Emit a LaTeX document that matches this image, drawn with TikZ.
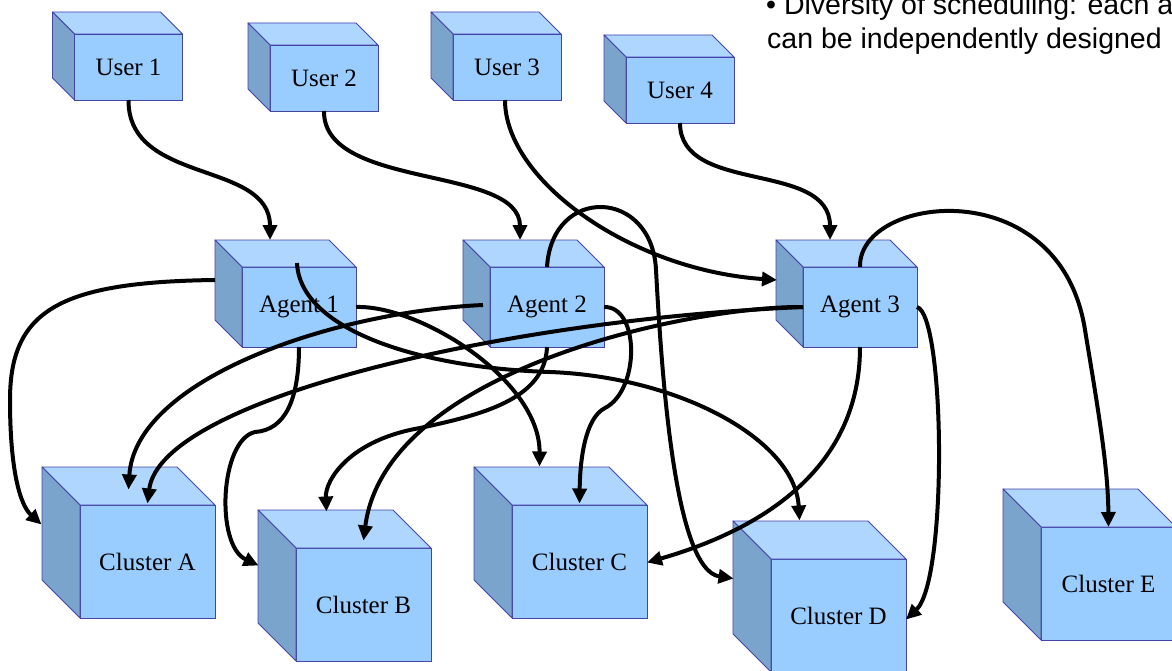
\documentclass[tikz,border=0pt]{standalone}
\usepackage{fontspec}
\setmainfont{Liberation Serif}
\newfontfamily\arialfont{Liberation Sans}
\usetikzlibrary{arrows.meta,calc}
\definecolor{frontc}{HTML}{99CCFF}
\definecolor{topc}{HTML}{AED6FF}
\definecolor{sidec}{HTML}{7AA4CC}
\definecolor{edgec}{HTML}{4444AA}
\tikzset{
  face/.style={draw=edgec, line width=0.9pt, fill=frontc, rectangle, outer sep=0pt, inner sep=0pt,
    font=\fontsize{25}{29}\selectfont, text=black},
  topface/.style={draw=edgec, line width=0.9pt, fill=topc, line join=round},
  sideface/.style={draw=edgec, line width=0.9pt, fill=sidec, line join=round},
  conn/.style={draw=black, line width=4pt, -{Triangle[length=15pt,width=14pt]}},
}
\newcommand{\mkcube}[7]{%
  \node[face, minimum width=#4pt, minimum height=#5pt] (#1) at (#2,#3) {#7};
  \path[topface] (#1.north west) -- ++(-#6,-#6) -- ++(#4,0) -- (#1.north east) -- cycle;
  \path[sideface] (#1.north west) -- ++(-#6,-#6) -- ++(0,#5) -- (#1.south west) -- cycle;
}
\begin{document}
\begin{tikzpicture}[x=1pt,y=-1pt]
\clip (0,0) rectangle (1172,671);
\fill[white] (0,0) rectangle (1172,671);
% text top right
\node[anchor=base west, inner sep=0pt, font=\arialfont\fontsize{28.5}{34}\selectfont] (t1) at (766,15) {• Diversity of scheduling: each a};
\node[anchor=base west, inner sep=0pt, font=\arialfont\fontsize{28.5}{34}\selectfont] (t2) at (767,49) {can be independently designed};
% users
\mkcube{u1}{128.5}{67}{108}{66}{22}{User 1}
\mkcube{u2}{324}{78}{108}{66}{22}{User 2}
\mkcube{u3}{507}{67}{108}{66}{22}{User 3}
\mkcube{u4}{680}{90}{108}{66}{22}{User 4}
% agents
\mkcube{a1}{299}{307}{114}{80}{27}{Agent 1}
\mkcube{a2}{547}{307}{114}{80}{27}{Agent 2}
\mkcube{a3}{860}{307}{114}{80}{27}{Agent 3}
% clusters
\mkcube{ca}{147.5}{561.5}{135}{113}{38}{Cluster A}
\mkcube{cb}{363.5}{604.5}{135}{113}{38}{Cluster B}
\mkcube{cc}{579.5}{561.5}{135}{113}{38}{Cluster C}
\mkcube{cd}{838.5}{615.5}{135}{113}{38}{Cluster D}
\mkcube{ce}{1108.5}{583.5}{135}{113}{38}{Cluster E}
% connectors users -> agents
\draw[conn] (u1.south) .. controls (128,185) and (270,160) .. ($(a1)+(-29,-67)$);
\draw[conn] (u2.south) .. controls (323,190) and (520,165) .. ($(a2)+(-27,-67)$);
\draw[conn] ($(u3.south)+(-2,0)$) .. controls (505,180) and (630,270) .. ($(a3)+(-83,-27)$);
\draw[conn] (u4.south) .. controls (680,195) and (830,160) .. ($(a3)+(-30,-67)$);
% agent 1
\draw[conn] ($(a1)+(-84,-27)$) .. controls (60,282) and (10,310) .. (10,400) .. controls (10,470) and (20,505) .. ($(ca)+(-106,-37)$);
\draw[conn] ($(a1)+(-2,-44)$) .. controls (300,330) and (420,368) .. (550,372) .. controls (680,377) and (795,440) .. ($(cd)+(-39,-95)$);
\draw[conn] (a1.east) .. controls (420,305) and (540,380) .. ($(cc)+(-40,-95)$);
\draw[conn] (a1.south) .. controls (299,400) and (285,430) .. (255,432) .. controls (220,440) and (215,545) .. ($(cb)+(-105,-39)$);
% agent 2
\draw[conn] ($(a2)+(-64,-2)$) .. controls (330,312) and (135,380) .. ($(ca)+(-19,-72)$);
\draw[conn] (a2.north) .. controls (552,185) and (652,188) .. (656,270) .. controls (662,380) and (675,570) .. ($(cd)+(-105,-37)$);
\draw[conn] (a2.east) .. controls (640,306) and (640,390) .. (605,408) .. controls (585,418) and (580,460) .. ($(cc)+(0,-58)$);
\draw[conn] (a2.south) .. controls (545,400) and (480,415) .. (420,428) .. controls (350,440) and (325,480) .. ($(cb)+(-37,-93)$);
% agent 3
\draw[conn] (a3.west) .. controls (500,320) and (160,400) .. ($(ca)+(0,-58)$);
\draw[conn] (a3.west) .. controls (690,306) and (385,370) .. ($(cb)+(0,-64)$);
\draw[conn] (a3.north) .. controls (858,195) and (1060,170) .. (1085,330) .. controls (1100,420) and (1108,470) .. (ce.north);
\draw[conn] (a3.east) .. controls (945,315) and (948,580) .. ($(cd.east)+(0,4)$);
\draw[conn] (a3.south) .. controls (860,470) and (760,530) .. ($(cc.east)+(0,1)$);
\end{tikzpicture}
\end{document}
